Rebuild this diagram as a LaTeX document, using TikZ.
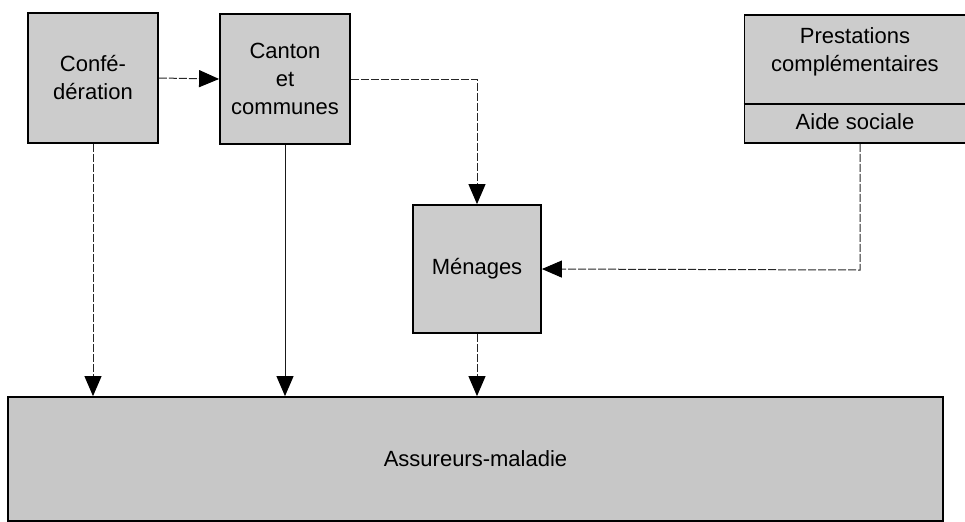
\documentclass[tikz,border=0pt]{standalone}
\usepackage{fontspec}
\setmainfont{Liberation Sans}
\usetikzlibrary{arrows.meta}
\begin{document}
\begin{tikzpicture}[x=0.5pt,y=-0.5pt,
  box/.style={draw=black,line width=0.9pt,fill=black!20,inner sep=0pt,align=center,
    font=\fontsize{11}{14}\selectfont},
  lbl/.style={inner sep=0pt,align=center,font=\fontsize{11}{14}\selectfont},
  link/.style={draw=black!85,line width=0.5pt,dash pattern=on 4pt off 1pt},
  solidlink/.style={draw=black!90,line width=0.5pt},
  tip/.style={-{Triangle[length=10pt,width=8.5pt,color=black]}}]
\useasboundingbox (0,0) rectangle (965,521);
% boxes
\node[box,minimum width=65pt,minimum height=65pt] (conf) at (93,78) {Confé-\\dération};
\node[box,minimum width=65pt,minimum height=65pt] (canton) at (285,79) {Canton\\et\\communes};
\node[box,minimum width=64pt,minimum height=64pt] (menages) at (477,269) {Ménages};
\node[box,minimum width=111pt,minimum height=64pt] (prest) at (855.5,79) {};
\node[lbl] (prestA) at (855,52) {Prestations\\complémentaires};
\node[lbl] (prestB) at (855,122) {Aide sociale};
\draw[line width=1.1pt] (prest.west |- 0,104) coordinate (dl) -- (prest.east |- 0,104) coordinate (dr);
\node[box,fill=black!22,minimum width=467.5pt,minimum height=62pt] (assur) at (475.5,459) {Assureurs-maladie};
% connectors
\coordinate (c1) at (477,79);
\coordinate (c2) at (860,270);
\draw[link,tip] (conf.east) -- (canton.west);
\draw[link,tip] (canton.east) -- (c1) -- (menages.north);
\draw[link,tip] (prest.south -| c2) -- (c2) -- (menages.east);
\draw[link,tip] (conf.south) -- (conf.south |- assur.north);
\draw[solidlink,tip] (canton.south) -- (canton.south |- assur.north);
\draw[link,tip] (menages.south) -- (menages.south |- assur.north);
\end{tikzpicture}
\end{document}
